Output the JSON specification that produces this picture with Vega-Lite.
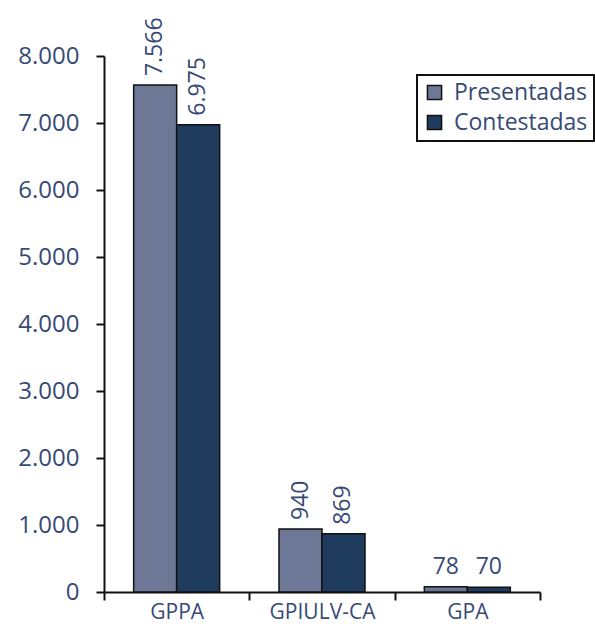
{
  "$schema": "https://vega.github.io/schema/vega-lite/v6.json",
  "autosize": "none",
  "width": 436,
  "height": 536,
  "padding": {"left": 104, "top": 56, "right": 55, "bottom": 36},
  "background": "white",
  "config": {
    "locale": {"number": {"decimal": ",", "thousands": ".", "grouping": [3], "currency": ["", " €"]}},
    "view": {"stroke": null},
    "font": "Open Sans",
    "legend": {"strokeWidth": 2}
  },
  "data": {"values": [
    {"grupo": "GPPA", "tipo": "Presentadas", "valor": 7566},
    {"grupo": "GPPA", "tipo": "Contestadas", "valor": 6975},
    {"grupo": "GPIULV-CA", "tipo": "Presentadas", "valor": 940},
    {"grupo": "GPIULV-CA", "tipo": "Contestadas", "valor": 869},
    {"grupo": "GPA", "tipo": "Presentadas", "valor": 78},
    {"grupo": "GPA", "tipo": "Contestadas", "valor": 70}
  ]},
  "encoding": {
    "x": {"field": "grupo", "type": "nominal", "sort": ["GPPA", "GPIULV-CA", "GPA"],
      "scale": {"paddingInner": 0, "paddingOuter": 0},
      "axis": {"title": null, "labelAngle": 0, "labelFontSize": 21, "labelColor": "#364a75", "labelPadding": 1,
        "domainColor": "#111", "domainWidth": 2, "tickColor": "#111", "tickWidth": 2, "tickSize": 8, "tickBand": "extent"}},
    "xOffset": {"field": "tipo", "type": "nominal", "sort": ["Presentadas", "Contestadas"],
      "scale": {"paddingInner": 0, "paddingOuter": 0.69}},
    "y": {"field": "valor", "type": "quantitative",
      "scale": {"domain": [0, 8000], "nice": false},
      "axis": {"title": null, "values": [0, 1000, 2000, 3000, 4000, 5000, 6000, 7000, 8000], "format": ",d",
        "grid": false, "labelFontSize": 24, "labelColor": "#364a75", "labelPadding": 17,
        "domainColor": "#111", "domainWidth": 2, "tickColor": "#111", "tickWidth": 2, "tickSize": 8}}
  },
  "layer": [
    {
      "mark": {"type": "bar", "stroke": "#111", "strokeWidth": 1.5},
      "encoding": {
        "color": {"field": "tipo", "type": "nominal", "sort": ["Presentadas", "Contestadas"],
          "scale": {"domain": ["Presentadas", "Contestadas"], "range": ["#6c7896", "#1f3b5e"]},
          "legend": {"title": null, "orient": "none", "legendX": 313, "legendY": 19,
            "labelFontSize": 23, "labelColor": "#364a75", "symbolType": "square", "symbolSize": 200,
            "symbolStrokeColor": "#111", "symbolStrokeWidth": 1.5, "strokeColor": "#111",
            "padding": 6, "rowPadding": 6, "labelOffset": 8, "fillColor": "white"}}
      }
    },
    {
      "transform": [{"filter": "datum.valor >= 500"}],
      "mark": {"type": "text", "angle": -90, "align": "left", "baseline": "middle", "dx": 9, "fontSize": 23, "color": "#364a75"},
      "encoding": {"text": {"field": "valor", "type": "quantitative", "format": ",d"}}
    },
    {
      "transform": [{"filter": "datum.valor < 500"}],
      "mark": {"type": "text", "align": "center", "baseline": "bottom", "dy": -8, "fontSize": 23, "color": "#364a75"},
      "encoding": {"text": {"field": "valor", "type": "quantitative", "format": ",d"}}
    }
  ]
}
